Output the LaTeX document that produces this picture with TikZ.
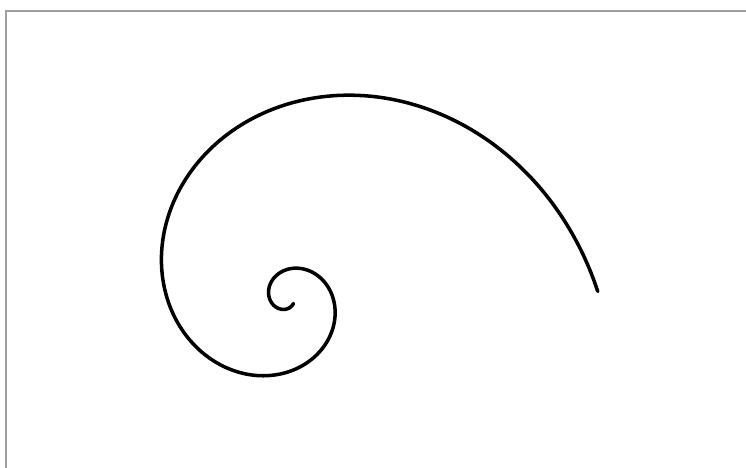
\documentclass[tikz,border=0pt]{standalone}
\usepackage{tikz}

\begin{document}
\begin{tikzpicture}[
  x=0.01cm, y=-0.01cm,
  frameline/.style={draw=gray!75, line width=0.45pt},
  spiral/.style={draw=black, line width=1pt, line cap=round, smooth},
]
  % Canvas
  \useasboundingbox (0,0) rectangle (746,468);
  \coordinate (corner) at (6,11);
  \draw[frameline] (746,11) -- (corner) -- (6,468);

  % Golden spiral round its centre
  \coordinate (centre) at (287,298);
  \draw[spiral] plot[domain=-320:358.8, samples=300]
    ({287+46*exp(0.005323*\x)*cos(\x)}, {298+46*exp(0.005323*\x)*sin(\x)});
\end{tikzpicture}
\end{document}
